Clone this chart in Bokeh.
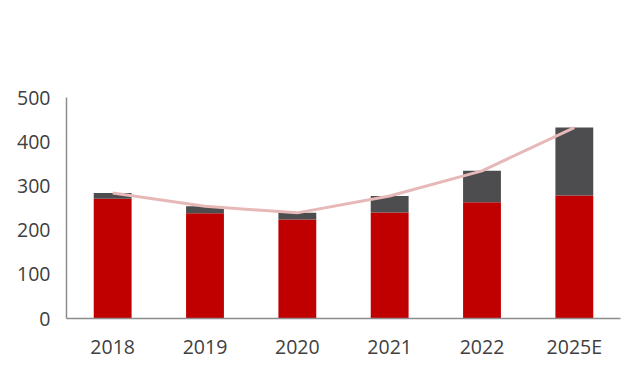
from bokeh.plotting import figure
from bokeh.models import Legend, LegendItem, Range1d
from bokeh.embed import file_html
from bokeh.resources import INLINE

# ---- data ----
years = ["2018", "2019", "2020", "2021", "2022", "2025E"]
low_voltage = [271, 238, 224, 240, 263, 278]
high_voltage = [13, 16, 15, 37, 71, 154]
total = [a + b for a, b in zip(low_voltage, high_voltage)]
y_ticks = [0, 100, 200, 300, 400, 500]

legend_labels = ["低压线缆市场空间（亿元）", "高压线缆市场空间（亿元）", "线缆总市场空间（亿元）"]
source_text = "资料来源：Wind，中汽中心，中汽协，立鼎产业研究网，沪光股份招股书，民生证券研究院测算"

RED = "#C00000"
DARK = "#4D4D4F"
PINK = "#E6B9B8"
TXT = "#404040"
RULE = "#595959"
CJK = "Noto Sans CJK SC"

p = figure(x_range=years, y_range=Range1d(0, 500), width=640, height=390,
           output_backend="svg", toolbar_location=None,
           min_border_left=66, min_border_right=20, min_border_top=97, min_border_bottom=72)
p.outline_line_color = None
p.grid.grid_line_color = None

src = dict(x=years, low=low_voltage, high=high_voltage, total=total)
rs = p.vbar_stack(["low", "high"], x="x", width=0.41, color=[RED, DARK],
                  line_color=None, source=src)
ln = p.line(x="x", y="total", source=src, line_color=PINK, line_width=3)

p.yaxis.ticker = y_ticks
p.yaxis.major_tick_line_color = None
p.yaxis.minor_tick_line_color = None
p.yaxis.major_label_standoff = 10
p.xaxis.major_tick_line_color = None
p.xaxis.major_label_standoff = 8
for ax in (p.xaxis, p.yaxis):
    ax.axis_line_color = "#8C8C8C"
    ax.axis_line_width = 1.5
    ax.major_label_text_font = "Open Sans"
    ax.major_label_text_font_size = "19.5px"
    ax.major_label_text_color = TXT
p.x_range.range_padding = 0

legend = Legend(items=[LegendItem(label=legend_labels[0], renderers=[rs[0]]),
                       LegendItem(label=legend_labels[1], renderers=[rs[1]]),
                       LegendItem(label=legend_labels[2], renderers=[ln])],
                ncols=2, location=(-32, 255), padding=0, margin=0,
                border_line_color=None, background_fill_alpha=0,
                glyph_width=24, glyph_height=12, label_standoff=5,
                label_height=22, spacing=12,
                label_text_font=CJK, label_text_font_size="15.5px",
                label_text_color=TXT)
p.add_layout(legend, "center")

# decorative rules (top border and separator above the source note)
rule = p.line(x=[], y=[], line_color=RULE, line_width=1.5)
for loc, w in (((-60, 316), 1.0), ((-60, -50), 1.5)):
    p.add_layout(Legend(items=[LegendItem(label=" ", renderers=[rule])],
                        location=loc, padding=0, margin=0,
                        border_line_color=None, background_fill_alpha=0,
                        glyph_width=634, glyph_height=2, label_standoff=0,
                        label_height=2, label_text_font_size="1px"), "center")

# source note
p.add_layout(Legend(items=[LegendItem(label=source_text, renderers=[rule])],
                    location=(-53, -70), padding=0, margin=0,
                    border_line_color=None, background_fill_alpha=0,
                    glyph_width=0, glyph_height=16, label_standoff=0,
                    label_height=16, label_text_font=CJK,
                    label_text_font_size="10.5px", label_text_color=TXT), "center")

open("out.html", "w").write(file_html(p, INLINE))
